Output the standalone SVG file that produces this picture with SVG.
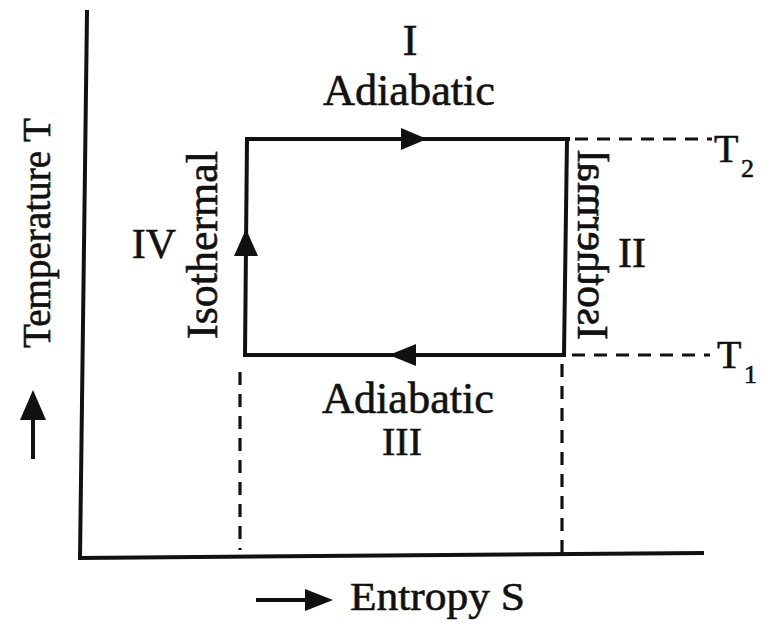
<svg xmlns="http://www.w3.org/2000/svg" width="765" height="628" viewBox="0 0 765 628">
<style>
.t{font-family:"Liberation Serif","Times New Roman",serif;fill:#111;stroke:#111;stroke-width:0.6}
.solid{stroke:#111;stroke-width:4;fill:none;stroke-linecap:square}
.dash{stroke:#111;stroke-width:3.2;fill:none;stroke-dasharray:13 9}
.head{fill:#111;stroke:none}
</style>
<rect width="765" height="628" fill="#fff"/>
<g id="axes">
<path class="solid" d="M87,12 L80,558 L702,553"/>
</g>
<g id="connectors">
<path class="solid" d="M247,139 L568,139"/>
<path class="solid" d="M567,139 L564,355"/>
<path class="solid" d="M564,355 L245,355"/>
<path class="solid" d="M245,355 L247,139"/>
<polygon class="head" points="427,139 401,128 401,150"/>
<polygon class="head" points="246,229 234,256 258,256"/>
<polygon class="head" points="389,355 416,344 416,366"/>
<path class="dash" d="M575,139 L712,139"/>
<path class="dash" d="M572,355 L710,355"/>
<path class="dash" d="M240,372 L240,550"/>
<path class="dash" d="M562,364 L562,553"/>
<path class="solid" d="M33,457 L33,418"/>
<polygon class="head" points="33,390 20,420 46,420"/>
<path class="solid" d="M258,600 L308,600"/>
<polygon class="head" points="333,600 305,589 305,611"/>
</g>
<g id="label-I">
<text class="t" x="410" y="55" font-size="44" text-anchor="middle">I</text>
<text class="t" x="409" y="105" font-size="44" text-anchor="middle" textLength="172" lengthAdjust="spacingAndGlyphs">Adiabatic</text>
</g>
<g id="label-III">
<text class="t" x="408" y="413" font-size="44" text-anchor="middle" textLength="172" lengthAdjust="spacingAndGlyphs">Adiabatic</text>
<text class="t" x="402" y="455" font-size="40" text-anchor="middle">III</text>
</g>
<g id="label-IV">
<text class="t" x="154" y="258" font-size="42" text-anchor="middle">IV</text>
<text class="t" transform="translate(217,245) rotate(-90)" font-size="44" text-anchor="middle" textLength="188" lengthAdjust="spacingAndGlyphs">Isothermal</text>
</g>
<g id="label-II">
<text class="t" x="632" y="267" font-size="42" text-anchor="middle">II</text>
<text class="t" transform="translate(578,245) scale(-1,1) rotate(-90)" font-size="44" text-anchor="middle" textLength="190" lengthAdjust="spacingAndGlyphs">Isothermal</text>
</g>
<g id="label-T2">
<text class="t" x="714" y="162" font-size="40">T</text>
<text class="t" x="741" y="177" font-size="26">2</text>
</g>
<g id="label-T1">
<text class="t" x="717" y="368" font-size="40">T</text>
<text class="t" x="744" y="383" font-size="26">1</text>
</g>
<g id="axis-labels">
<text class="t" transform="translate(50,233) rotate(-90)" font-size="39" text-anchor="middle" textLength="230" lengthAdjust="spacingAndGlyphs">Temperature T</text>
<text class="t" x="350" y="610" font-size="40" textLength="175" lengthAdjust="spacingAndGlyphs">Entropy S</text>
</g>
</svg>
